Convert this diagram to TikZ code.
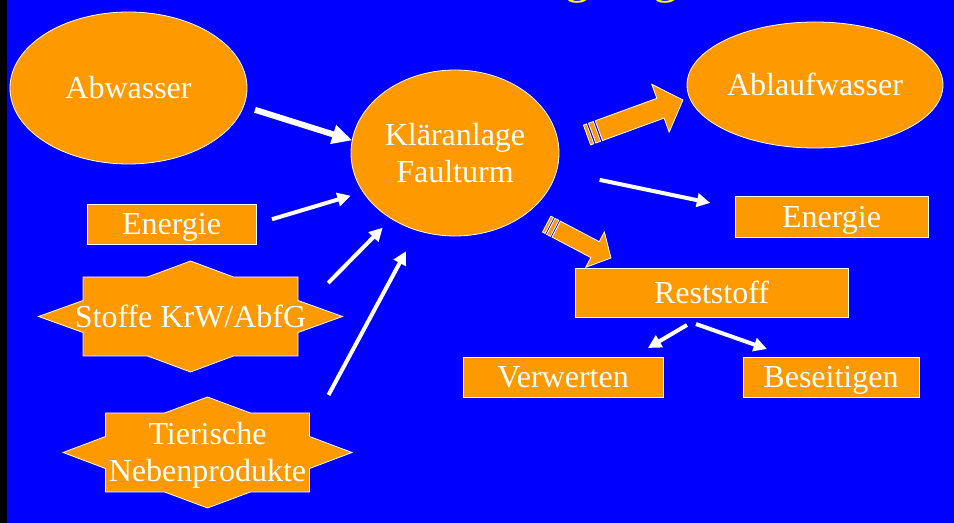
\documentclass[tikz,border=0pt]{standalone}
\usepackage{fontspec}
\setmainfont{Liberation Serif}
\usetikzlibrary{shapes.geometric,arrows.meta,calc}
\definecolor{folie}{HTML}{0000FF}
\definecolor{orangeton}{HTML}{FF9900}
\definecolor{titelgelb}{HTML}{FFFF00}
\tikzset{
  schrift/.style={text=white,font=\fontsize{24}{27.75}\selectfont},
  orangeform/.style={fill=orangeton,draw=white,line width=0.6pt},
  flaeche/.style={schrift,orangeform,inner sep=0pt,outer sep=0pt,text height=16.5pt,text depth=0pt},
  oval/.style={flaeche,ellipse},
  kasten/.style={flaeche,rectangle},
  sterntext/.style={schrift,rectangle,inner sep=0pt,outer sep=0pt,text height=16.5pt,text depth=0pt},
  zweizeilig/.style={align=center,text height=44.25pt,text depth=0pt},
  pfeil/.style={white,line width=3pt,-{Triangle[length=10pt,width=10pt]}},
  pfeil dick/.style={pfeil,line width=4.5pt,-{Triangle[length=15pt,width=14pt]}},
}
% Stern mit acht Spitzen: Name, Mitte, halbe Breite, halbe Hoehe, Spitze, Optionen, Text
\newcommand{\achtstern}[7]{%
  \filldraw[orangeform,shift={(#2)}] (#5,0) -- (#3,-16) -- (#3,-#4) -- (43,-#4) -- (0,-#4-16) -- (-43,-#4) -- (-#3,-#4) -- (-#3,-16) -- (-#5,0) -- (-#3,16) -- (-#3,#4) -- (-43,#4) -- (0,#4+16) -- (43,#4) -- (#3,#4) -- (#3,16) -- cycle;
  \node (#1) at (#2) [sterntext,minimum width={2*#3*0.75pt},minimum height={2*#4*0.75pt},#6] {#7};}
% Streifenpfeil: Anfang, Spitze, halbe Schaftbreite, halbe Kopfbreite, Kopflaenge
\newcommand{\streifenpfeil}[5]{%
  \path let \p1=(#1), \p2=(#2) in \pgfextra{%
    \pgfmathsetmacro\pfwinkel{atan2(\y2-\y1,\x2-\x1)}%
    \pgfmathsetmacro\pflaenge{veclen(\x2-\x1,\y2-\y1)}%
    \xdef\pfwinkel{\pfwinkel}\xdef\pflaenge{\pflaenge}\xdef\pfx{\x1}\xdef\pfy{\y1}};
  \begin{scope}[shift={(\pfx,\pfy)},rotate=\pfwinkel]
    \filldraw[orangeform] (0pt,-#3) rectangle ({0.32*#3},#3);
    \filldraw[orangeform] ({0.52*#3},-#3) rectangle (#3,#3);
    \filldraw[orangeform] ({1.2*#3},-#3) -- ({\pflaenge pt-#5},-#3) -- ({\pflaenge pt-#5},-#4) -- (\pflaenge pt,0pt) -- ({\pflaenge pt-#5},#4) -- ({\pflaenge pt-#5},#3) -- ({1.2*#3},#3) -- cycle;
  \end{scope}}
\begin{document}
\begin{tikzpicture}[x=0.75pt,y=-0.75pt]
 \useasboundingbox (0,0) rectangle (954,523);
 \fill[folie] (0,0) rectangle (954,523);
 \fill[black] (0,0) rectangle (7,523);
 \begin{scope}
  \clip (0,0) rectangle (954,523);
  \node (titel) at (565,-7) [anchor=base west,inner sep=0pt,text=titelgelb,font=\fontsize{37.5}{40}\selectfont] {g\hspace{47.25pt}g};
 \end{scope}
 % Knoten
 \node (abwasser) at (128.5,88) [oval,minimum width=177.75pt,minimum height=114pt] {Abwasser};
 \node (klaer) at (455,153) [oval,minimum width=156pt,minimum height=124.5pt,zweizeilig] {Kläranlage\\Faulturm};
 \node (ablauf) at (815,85) [oval,minimum width=192pt,minimum height=94.5pt] {Ablaufwasser};
 \node (energie1) at (171.5,224) [kasten,minimum width=126.75pt,minimum height=30pt] {Energie};
 \node (energie2) at (831.5,216.5) [kasten,minimum width=144.75pt,minimum height=30.75pt] {Energie};
 \node (reststoff) at (711.5,292.5) [kasten,minimum width=204.75pt,minimum height=36.75pt] {Reststoff};
 \node (verwerten) at (563,377) [kasten,minimum width=150pt,minimum height=30pt] {Verwerten};
 \node (beseitigen) at (831,377) [kasten,minimum width=132pt,minimum height=30pt] {Beseitigen};
 \achtstern{stoffe}{190.5,316.5}{107.5}{39.5}{152}{}{Stoffe KrW/AbfG}
 \achtstern{tierische}{207.5,452.5}{102}{39.5}{144.5}{zweizeilig}{Tierische\\Nebenprodukte}
 % Pfeile
 \streifenpfeil{[shift={(28,-18)}]klaer.east}{[shift={(-4,15)}]ablauf.west}{7.9pt}{19.1pt}{18pt}
 \streifenpfeil{[shift={(20,11)}]klaer.-40}{[shift={(36,-10)}]reststoff.north west}{6.75pt}{15pt}{13.5pt}
 \draw[pfeil dick,shorten <=9pt] (abwasser.-9) -- (klaer.173);
 \draw[pfeil,shorten <=12.5pt,shorten >=9.75pt] (energie1.east) -- (klaer.203);
 \draw[pfeil,shorten >=9.4pt] ([shift={(22,6)}]stoffe.north east) -- (klaer.226);
 \draw[pfeil,shorten >=17.8pt] ([shift={(19,-18)}]tierische.north east) -- (klaer.244.6);
 \draw[pfeil,shorten <=33pt,shorten >=19pt] (klaer.-10.6) -- (energie2.175);
 \draw[pfeil,shorten <=11.8pt,shorten >=13.3pt] ([shift={(-11,0)}]reststoff.south) -- ([shift={(69.7,0)}]verwerten.north);
 \draw[pfeil,shorten <=15.9pt,shorten >=18pt] ([shift={(-35.5,0)}]reststoff.south) -- ([shift={(-41.3,0)}]beseitigen.north);
\end{tikzpicture}
\end{document}
